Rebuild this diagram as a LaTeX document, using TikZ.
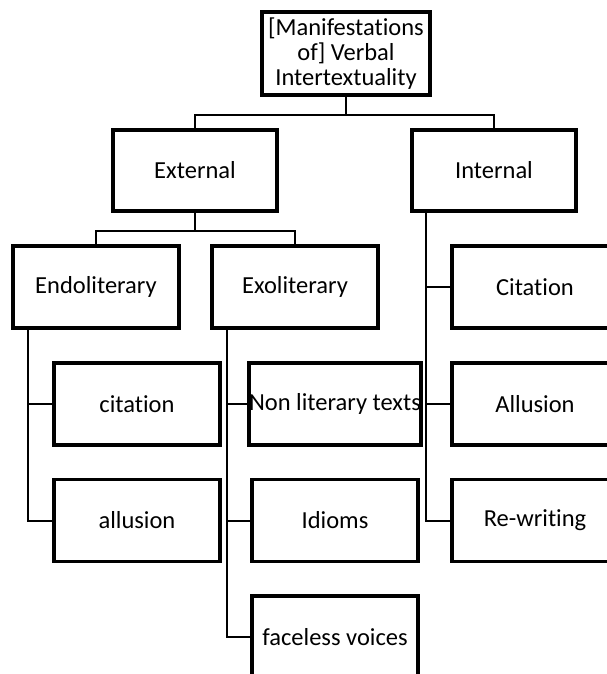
\documentclass[tikz,border=0pt]{standalone}
\usepackage{fontspec}
\setmainfont{Carlito}[RawFeature={-liga;-clig;-dlig}]
\usetikzlibrary{positioning}

\begin{document}
\begin{tikzpicture}[x=1pt, y=-1pt,
  box/.style={draw, line width=3.3pt, minimum width=166pt, minimum height=82pt, inner sep=0pt, align=center, font=\fontsize{24.5}{25}\selectfont},
  link/.style={line width=2pt}]
\clip (0,0) rectangle (607,674);
\node [box, minimum width=168pt, minimum height=83pt] (top) at (346,53.5) {[Manifestations\\of] Verbal\\Intertextuality};
\node [box, minimum width=164pt, minimum height=81pt] (ext) at (195,170.5) {External};
\node [box, minimum width=164pt, minimum height=81pt] (int) at (494,170.5) {Internal};
\node [box] (endo) at (96,287) {Endoliterary};
\node [box] (exo) at (295,287) {Exoliterary};
\node [box] (ecit) at (137,404) {citation};
\node [box] (eall) at (137,520.5) {allusion};
\node [box] (nonlit) at (335,404) {Non literary texts};
\node [box] (idioms) at (335,520.5) {Idioms};
\node [box] (faceless) at (335,637) {faceless voices};
\node [box] (icit) at (535,287) {Citation};
\node [box] (iall) at (535,404) {Allusion};
\node [box] (irew) at (535,520.5) {Re-writing};
\path (top.south) ++(0,18) coordinate (b1);
\path (ext.south) ++(0,18) coordinate (b2);
\draw [link] (top.south) -- (b1);
\draw [link] (ext.north) |- (b1) -| (int.north);
\draw [link] (ext.south) -- (b2);
\draw [link] (endo.north) |- (b2) -| (exo.north);
\foreach \c in {ecit, eall} \draw [link] ([xshift=17pt]endo.south west) |- (\c.west);
\foreach \c in {nonlit, idioms, faceless} \draw [link] ([xshift=17pt]exo.south west) |- (\c.west);
\foreach \c in {icit, iall, irew} \draw [link] ([xshift=16pt]int.south west) |- (\c.west);
\end{tikzpicture}
\end{document}
